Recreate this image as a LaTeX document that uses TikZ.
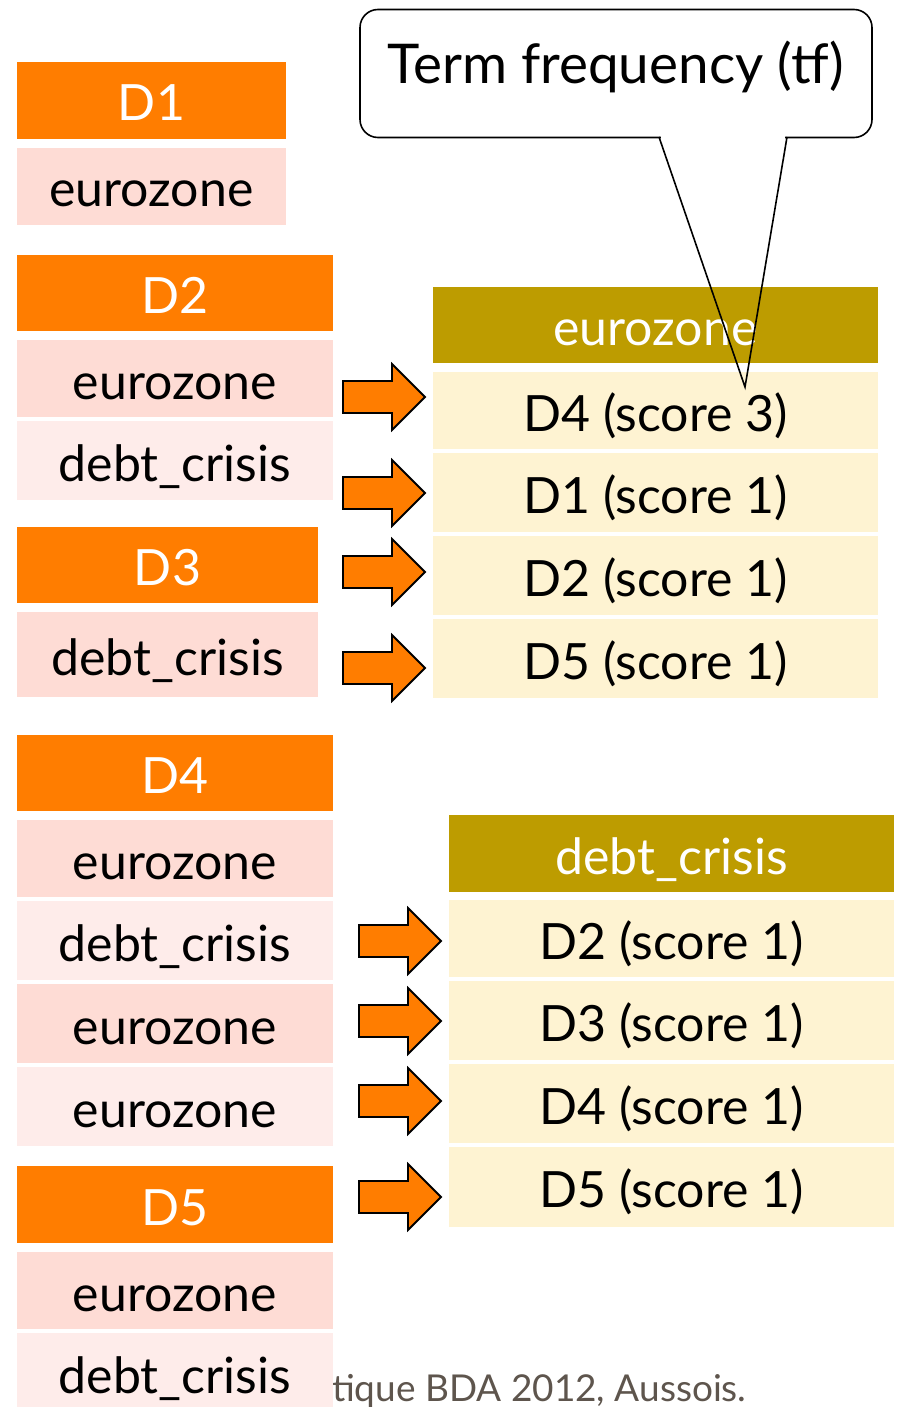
\documentclass[tikz,border=0pt]{standalone}
\usepackage{fontspec}
\setmainfont{Lato}
\definecolor{hdrorange}{HTML}{FF7D00}
\definecolor{pinkA}{HTML}{FEDCD5}
\definecolor{pinkB}{HTML}{FEECEA}
\definecolor{goldhdr}{HTML}{BD9C00}
\definecolor{cream}{HTML}{FEF3D2}
\definecolor{footgray}{HTML}{5E554D}
% a filled cell: name, x1, y1, x2, y2, style, text (coordinates in pixels, y downwards)
\newcommand\cell[7]{%
  \node[#6, minimum width={(#4-#2)*0.5pt}, minimum height={(#5-#3)*0.5pt}]
    (#1) at ({(#2+#4)/2},{(#3+#5)/2}) {#7};}
% a block arrow centred at (#1,#2)
\newcommand\blockarrow[2]{%
  \path[blockarrow, shift={(#1,#2)}]
    (-41,-16) -- (8,-16) -- (8,-33) -- (41,0) -- (8,33) -- (8,16) -- (-41,16) -- cycle;}
\tikzset{
  cellbase/.style={rectangle, inner sep=0pt, outer sep=0pt, font=\fontsize{25}{29}\selectfont,
    text height=20.5pt, text depth=0pt},
  doch/.style={cellbase, fill=hdrorange, text=white},
  rowa/.style={cellbase, fill=pinkA, text=black},
  rowb/.style={cellbase, fill=pinkB, text=black},
  termh/.style={cellbase, fill=goldhdr, text=white},
  postrow/.style={cellbase, fill=cream, text=black},
  blockarrow/.style={fill=hdrorange, draw=black, line width=0.9pt, line join=miter},
  callout/.style={draw=black, line width=0.8pt},
}
\begin{document}
\begin{tikzpicture}[x=0.5pt, y=-0.5pt]
\useasboundingbox (0,0) rectangle (899,1407);
\fill[white] (0,0) rectangle (899,1407);

% footer, partly hidden behind the last document block
\node[anchor=base east, inner sep=0pt, text=footgray, font=\fontsize{18.5}{22}\selectfont]
  (foot) at (747,1401) {atique BDA 2012, Aussois.};

% documents
\cell{d1}{17}{62}{286}{139}{doch}{D1}
\cell{d1a}{17}{148}{286}{225}{rowa}{eurozone}

\cell{d2}{17}{255}{333}{331}{doch}{D2}
\cell{d2a}{17}{340}{333}{417}{rowa}{eurozone}
\cell{d2b}{17}{421}{333}{500}{rowb}{debt\_crisis}

\cell{d3}{17}{527}{318}{603}{doch}{D3}
\cell{d3a}{17}{612}{318}{697}{rowa}{debt\_crisis}

\cell{d4}{17}{735}{333}{811}{doch}{D4}
\cell{d4a}{17}{820}{333}{897}{rowa}{eurozone}
\cell{d4b}{17}{901}{333}{980}{rowb}{debt\_crisis}
\cell{d4c}{17}{984}{333}{1063}{rowa}{eurozone}
\cell{d4d}{17}{1067}{333}{1146}{rowb}{eurozone}

\cell{d5}{17}{1166}{333}{1243}{doch}{D5}
\cell{d5a}{17}{1252}{333}{1329}{rowa}{eurozone}
\cell{d5b}{17}{1333}{333}{1412}{rowb}{debt\_crisis}

% posting list: eurozone
\cell{ez}{433}{287}{878}{363}{termh}{eurozone}
\cell{ez1}{433}{372}{878}{449}{postrow}{D4 (score 3)}
\cell{ez2}{433}{453}{878}{532}{postrow}{D1 (score 1)}
\cell{ez3}{433}{536}{878}{615}{postrow}{D2 (score 1)}
\cell{ez4}{433}{619}{878}{698}{postrow}{D5 (score 1)}

% posting list: debt_crisis
\cell{dc}{449}{815}{894}{892}{termh}{debt\_crisis}
\cell{dc1}{449}{900}{894}{977}{postrow}{D2 (score 1)}
\cell{dc2}{449}{981}{894}{1060}{postrow}{D3 (score 1)}
\cell{dc3}{449}{1064}{894}{1143}{postrow}{D4 (score 1)}
\cell{dc4}{449}{1147}{894}{1227}{postrow}{D5 (score 1)}

% block arrows
\blockarrow{384}{397}
\blockarrow{384}{493}
\blockarrow{384}{572}
\blockarrow{384}{668}
\blockarrow{400}{941}
\blockarrow{400}{1021}
\blockarrow{400}{1101}
\blockarrow{400}{1197}

% callout
\node[callout, fill=white, rounded corners=9pt, minimum width=256pt, minimum height=64pt,
  inner sep=0pt, outer sep=0pt] (tf) at (616,73.5) {};
\node[anchor=base, inner sep=0pt, font=\fontsize{27.4}{31}\selectfont]
  (tftext) at (615.5,84) {Term frequency (tf)};
\coordinate (pl) at (659,137);
\coordinate (pr) at (787,137);
\coordinate (ptip) at (745,387);
\fill[white] (661,133) rectangle (785,141);
\draw[callout, line join=miter] (pl) -- (ptip) -- (pr);
\end{tikzpicture}
\end{document}
